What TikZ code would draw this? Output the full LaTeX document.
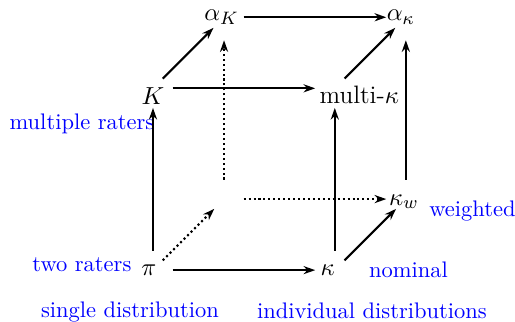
\documentclass[tikz,border=0pt]{standalone}
\usepackage{amsmath,amssymb}
\usepackage{xcolor}
\usepackage{tikz}
\usetikzlibrary{arrows.meta,positioning,shapes.geometric}

\begin{document}
\begin{tikzpicture}[
  node distance=2.84cm and 2.84cm, on grid,
  corner/.style={diamond, minimum width=17pt, minimum height=17pt, inner sep=0pt},
  tall/.style={minimum height=20pt},
  every label/.style={font=\fontsize{11.2}{13}\selectfont},
  note/.style={text=blue},
  arrow/.style={-{Stealth[length=5.2pt,width=3.6pt]}, line width=0.9pt},
  hidden/.style={arrow, dash pattern=on 0.9pt off 1.3pt}
]
\useasboundingbox (-2.39,-0.81) rectangle (5.655,4.22);

\node[corner, label={[xshift=-1.8pt]center:$\pi$}] (pi) {};
\node[corner, right=of pi, label={[xshift=-3.1pt]center:$\kappa$}] (kappa) {};
\node[corner, above=of pi, label={[yshift=-3.3pt]center:$K$}] (K) {};
\node[corner, above=of kappa, label={[xshift=10.9pt, yshift=-2.8pt]center:multi-$\kappa$}] (multi) {};
\node[corner, above right=1.11cm and 1.11cm of pi] (back) {};
\node[corner, above right=1.11cm and 1.11cm of kappa, label={[xshift=-0.9pt, yshift=-1.2pt]center:$\kappa_w$}] (kw) {};
\node[corner, tall, above right=1.11cm and 1.11cm of K, label={[xshift=-1.1pt]center:$\alpha_K$}] (aK) {};
\node[corner, tall, above right=1.11cm and 1.11cm of multi, label={[xshift=-2.2pt]center:$\alpha_\kappa$}] (aka) {};

\node[note, above left=0.09cm and 1.11cm of pi] (two) {two raters};
\node[note, below left=0.55cm and 1.11cm of K] (many) {multiple raters};
\node[note, right=1.15cm of kappa] (nom) {nominal};
\node[note, below right=0.19cm and 1.04cm of kw] (wgt) {weighted};
\node[note, below left=0.66cm and 0.36cm of pi] (single) {single distribution};
\node[note, below right=0.63cm and 0.58cm of kappa] (indiv) {individual distributions};

\draw[arrow] (pi) -- (kappa);
\draw[arrow] (pi) -- (K);
\draw[hidden] (pi) -- (back);
\draw[arrow] (kappa) -- (multi);
\draw[arrow] (kappa) -- (kw);
\draw[arrow] (K) -- (multi);
\draw[arrow] (K) -- (aK);
\draw[arrow] (multi) -- (aka);
\draw[arrow] (aK) -- (aka);
\draw[arrow] (kw) -- (aka);
\draw[hidden] (back) -- (kw);
\draw[hidden] (back) -- (aK);
\end{tikzpicture}
\end{document}
